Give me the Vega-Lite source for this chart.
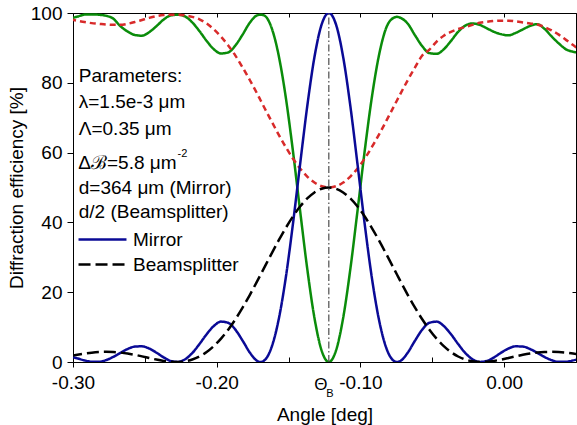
{
  "$schema": "https://vega.github.io/schema/vega-lite/v6.json",
  "width": 503,
  "height": 349,
  "autosize": {"type": "none"},
  "padding": {"left": 73, "top": 13, "right": 1, "bottom": 63},
  "background": "white",
  "config": {
    "font": "Liberation Sans",
    "view": {"stroke": "black", "strokeWidth": 1},
    "axis": {"grid": false, "domainColor": "black", "tickColor": "black", "labelColor": "black", "titleColor": "black", "labelFont": "Liberation Sans", "titleFont": "Liberation Sans", "labelFontSize": 19, "titleFontSize": 19, "titleFontWeight": "normal", "labelOverlap": false, "labelFlush": false}
  },
  "data": {"values": [
    {"a": -0.302, "Mirror": 1.62, "Beamsplitter": 1.74, "Mirror transmitted": 98.38, "Beamsplitter transmitted": 98.2},
    {"a": -0.297, "Mirror": 1.05, "Beamsplitter": 2.09, "Mirror transmitted": 98.95, "Beamsplitter transmitted": 97.8},
    {"a": -0.292, "Mirror": 0.46, "Beamsplitter": 2.41, "Mirror transmitted": 99.54, "Beamsplitter transmitted": 97.4},
    {"a": -0.287, "Mirror": 0.07, "Beamsplitter": 2.67, "Mirror transmitted": 99.6, "Beamsplitter transmitted": 97.1},
    {"a": -0.282, "Mirror": 0.04, "Beamsplitter": 2.84, "Mirror transmitted": 99.5, "Beamsplitter transmitted": 96.9},
    {"a": -0.277, "Mirror": 0.53, "Beamsplitter": 2.91, "Mirror transmitted": 99.2, "Beamsplitter transmitted": 96.7},
    {"a": -0.272, "Mirror": 1.46, "Beamsplitter": 2.86, "Mirror transmitted": 98.4, "Beamsplitter transmitted": 96.6},
    {"a": -0.267, "Mirror": 2.63, "Beamsplitter": 2.70, "Mirror transmitted": 96.2, "Beamsplitter transmitted": 96.6},
    {"a": -0.262, "Mirror": 3.73, "Beamsplitter": 2.43, "Mirror transmitted": 94.7, "Beamsplitter transmitted": 96.9},
    {"a": -0.257, "Mirror": 4.42, "Beamsplitter": 2.06, "Mirror transmitted": 93.7, "Beamsplitter transmitted": 97.4},
    {"a": -0.252, "Mirror": 4.49, "Beamsplitter": 1.62, "Mirror transmitted": 93.5, "Beamsplitter transmitted": 98.0},
    {"a": -0.247, "Mirror": 3.86, "Beamsplitter": 1.15, "Mirror transmitted": 94.5, "Beamsplitter transmitted": 98.6},
    {"a": -0.242, "Mirror": 2.69, "Beamsplitter": 0.70, "Mirror transmitted": 96.2, "Beamsplitter transmitted": 99.1},
    {"a": -0.237, "Mirror": 1.34, "Beamsplitter": 0.32, "Mirror transmitted": 98.1, "Beamsplitter transmitted": 99.4},
    {"a": -0.232, "Mirror": 0.29, "Beamsplitter": 0.07, "Mirror transmitted": 99.3, "Beamsplitter transmitted": 99.5},
    {"a": -0.227, "Mirror": 0.03, "Beamsplitter": 0.01, "Mirror transmitted": 99.5, "Beamsplitter transmitted": 99.5},
    {"a": -0.222, "Mirror": 0.78, "Beamsplitter": 0.20, "Mirror transmitted": 99.0, "Beamsplitter transmitted": 99.3},
    {"a": -0.217, "Mirror": 2.57, "Beamsplitter": 0.71, "Mirror transmitted": 97.3, "Beamsplitter transmitted": 98.9},
    {"a": -0.212, "Mirror": 5.15, "Beamsplitter": 1.58, "Mirror transmitted": 94.8, "Beamsplitter transmitted": 98.2},
    {"a": -0.207, "Mirror": 7.96, "Beamsplitter": 2.85, "Mirror transmitted": 92.0, "Beamsplitter transmitted": 97.0},
    {"a": -0.202, "Mirror": 10.32, "Beamsplitter": 4.56, "Mirror transmitted": 89.6, "Beamsplitter transmitted": 95.3},
    {"a": -0.197, "Mirror": 11.57, "Beamsplitter": 6.70, "Mirror transmitted": 88.4, "Beamsplitter transmitted": 93.2},
    {"a": -0.192, "Mirror": 11.23, "Beamsplitter": 9.27, "Mirror transmitted": 88.7, "Beamsplitter transmitted": 90.7},
    {"a": -0.187, "Mirror": 9.27, "Beamsplitter": 12.24, "Mirror transmitted": 90.7, "Beamsplitter transmitted": 87.8},
    {"a": -0.182, "Mirror": 6.13, "Beamsplitter": 15.57, "Mirror transmitted": 93.8, "Beamsplitter transmitted": 84.4},
    {"a": -0.177, "Mirror": 2.73, "Beamsplitter": 19.19, "Mirror transmitted": 97.2, "Beamsplitter transmitted": 80.8},
    {"a": -0.172, "Mirror": 0.36, "Beamsplitter": 23.02, "Mirror transmitted": 99.3, "Beamsplitter transmitted": 77.0},
    {"a": -0.1695, "Mirror": 0, "Beamsplitter": 24.99, "Mirror transmitted": 99.5, "Beamsplitter transmitted": 75.0},
    {"a": -0.167, "Mirror": 0.40, "Beamsplitter": 26.97, "Mirror transmitted": 99.3, "Beamsplitter transmitted": 73.0},
    {"a": -0.162, "Mirror": 4.03, "Beamsplitter": 30.92, "Mirror transmitted": 95.97, "Beamsplitter transmitted": 69.08},
    {"a": -0.157, "Mirror": 11.93, "Beamsplitter": 34.76, "Mirror transmitted": 88.07, "Beamsplitter transmitted": 65.24},
    {"a": -0.152, "Mirror": 24.01, "Beamsplitter": 38.39, "Mirror transmitted": 75.99, "Beamsplitter transmitted": 61.61},
    {"a": -0.147, "Mirror": 39.43, "Beamsplitter": 41.68, "Mirror transmitted": 60.57, "Beamsplitter transmitted": 58.32},
    {"a": -0.142, "Mirror": 56.57, "Beamsplitter": 44.54, "Mirror transmitted": 43.43, "Beamsplitter transmitted": 55.46},
    {"a": -0.137, "Mirror": 73.30, "Beamsplitter": 46.87, "Mirror transmitted": 26.70, "Beamsplitter transmitted": 53.13},
    {"a": -0.132, "Mirror": 87.35, "Beamsplitter": 48.59, "Mirror transmitted": 12.65, "Beamsplitter transmitted": 51.41},
    {"a": -0.127, "Mirror": 96.71, "Beamsplitter": 49.64, "Mirror transmitted": 3.29, "Beamsplitter transmitted": 50.36},
    {"a": -0.122, "Mirror": 100, "Beamsplitter": 50, "Mirror transmitted": 0, "Beamsplitter transmitted": 50},
    {"a": -0.117, "Mirror": 96.71, "Beamsplitter": 49.64, "Mirror transmitted": 3.29, "Beamsplitter transmitted": 50.36},
    {"a": -0.112, "Mirror": 87.35, "Beamsplitter": 48.59, "Mirror transmitted": 12.65, "Beamsplitter transmitted": 51.41},
    {"a": -0.107, "Mirror": 73.30, "Beamsplitter": 46.87, "Mirror transmitted": 26.70, "Beamsplitter transmitted": 53.13},
    {"a": -0.102, "Mirror": 56.57, "Beamsplitter": 44.54, "Mirror transmitted": 43.43, "Beamsplitter transmitted": 55.46},
    {"a": -0.097, "Mirror": 39.43, "Beamsplitter": 41.68, "Mirror transmitted": 60.57, "Beamsplitter transmitted": 58.32},
    {"a": -0.092, "Mirror": 24.01, "Beamsplitter": 38.39, "Mirror transmitted": 75.99, "Beamsplitter transmitted": 61.61},
    {"a": -0.087, "Mirror": 11.93, "Beamsplitter": 34.76, "Mirror transmitted": 88.07, "Beamsplitter transmitted": 65.24},
    {"a": -0.082, "Mirror": 4.03, "Beamsplitter": 30.92, "Mirror transmitted": 95.8, "Beamsplitter transmitted": 69.08},
    {"a": -0.077, "Mirror": 0.40, "Beamsplitter": 26.97, "Mirror transmitted": 98.6, "Beamsplitter transmitted": 73.03},
    {"a": -0.0745, "Mirror": 0, "Beamsplitter": 24.99, "Mirror transmitted": 98.9, "Beamsplitter transmitted": 75.01},
    {"a": -0.072, "Mirror": 0.36, "Beamsplitter": 23.02, "Mirror transmitted": 98.6, "Beamsplitter transmitted": 76.98},
    {"a": -0.067, "Mirror": 2.73, "Beamsplitter": 19.19, "Mirror transmitted": 96.9, "Beamsplitter transmitted": 80.81},
    {"a": -0.062, "Mirror": 6.13, "Beamsplitter": 15.57, "Mirror transmitted": 93.6, "Beamsplitter transmitted": 84.43},
    {"a": -0.057, "Mirror": 9.27, "Beamsplitter": 12.24, "Mirror transmitted": 90.5, "Beamsplitter transmitted": 87.8},
    {"a": -0.052, "Mirror": 11.23, "Beamsplitter": 9.27, "Mirror transmitted": 88.5, "Beamsplitter transmitted": 89.5},
    {"a": -0.047, "Mirror": 11.57, "Beamsplitter": 6.70, "Mirror transmitted": 88.3, "Beamsplitter transmitted": 91.8},
    {"a": -0.042, "Mirror": 10.32, "Beamsplitter": 4.56, "Mirror transmitted": 89.6, "Beamsplitter transmitted": 93.5},
    {"a": -0.037, "Mirror": 7.96, "Beamsplitter": 2.85, "Mirror transmitted": 92.0, "Beamsplitter transmitted": 94.6},
    {"a": -0.032, "Mirror": 5.15, "Beamsplitter": 1.58, "Mirror transmitted": 94.6, "Beamsplitter transmitted": 95.4},
    {"a": -0.027, "Mirror": 2.57, "Beamsplitter": 0.71, "Mirror transmitted": 96.4, "Beamsplitter transmitted": 96.0},
    {"a": -0.022, "Mirror": 0.78, "Beamsplitter": 0.20, "Mirror transmitted": 97.0, "Beamsplitter transmitted": 96.6},
    {"a": -0.017, "Mirror": 0.03, "Beamsplitter": 0.01, "Mirror transmitted": 96.6, "Beamsplitter transmitted": 97.2},
    {"a": -0.012, "Mirror": 0.29, "Beamsplitter": 0.07, "Mirror transmitted": 95.6, "Beamsplitter transmitted": 97.5},
    {"a": -0.007, "Mirror": 1.34, "Beamsplitter": 0.32, "Mirror transmitted": 94.6, "Beamsplitter transmitted": 97.7},
    {"a": -0.002, "Mirror": 2.69, "Beamsplitter": 0.70, "Mirror transmitted": 93.9, "Beamsplitter transmitted": 97.8},
    {"a": 0.003, "Mirror": 3.86, "Beamsplitter": 1.15, "Mirror transmitted": 93.6, "Beamsplitter transmitted": 97.8},
    {"a": 0.008, "Mirror": 4.49, "Beamsplitter": 1.62, "Mirror transmitted": 94.3, "Beamsplitter transmitted": 97.6},
    {"a": 0.013, "Mirror": 4.42, "Beamsplitter": 2.06, "Mirror transmitted": 95.3, "Beamsplitter transmitted": 97.3},
    {"a": 0.018, "Mirror": 3.73, "Beamsplitter": 2.43, "Mirror transmitted": 96.3, "Beamsplitter transmitted": 97.0},
    {"a": 0.023, "Mirror": 2.63, "Beamsplitter": 2.70, "Mirror transmitted": 96.8, "Beamsplitter transmitted": 96.7},
    {"a": 0.028, "Mirror": 1.46, "Beamsplitter": 2.86, "Mirror transmitted": 95.5, "Beamsplitter transmitted": 96.0},
    {"a": 0.033, "Mirror": 0.53, "Beamsplitter": 2.91, "Mirror transmitted": 93.3, "Beamsplitter transmitted": 95.0},
    {"a": 0.038, "Mirror": 0.04, "Beamsplitter": 2.84, "Mirror transmitted": 91.3, "Beamsplitter transmitted": 93.8},
    {"a": 0.043, "Mirror": 0.07, "Beamsplitter": 2.67, "Mirror transmitted": 89.6, "Beamsplitter transmitted": 92.3},
    {"a": 0.048, "Mirror": 0.46, "Beamsplitter": 2.41, "Mirror transmitted": 88.9, "Beamsplitter transmitted": 90.8},
    {"a": 0.053, "Mirror": 1.05, "Beamsplitter": 2.09, "Mirror transmitted": 88.6, "Beamsplitter transmitted": 89.3}
  ]},
  "resolve": {"axis": {"x": "independent", "y": "independent"}},
  "layer": [
    {
      "layer": [
        {
          "transform": [{"fold": ["Mirror transmitted", "Beamsplitter transmitted", "Mirror", "Beamsplitter"], "as": ["series", "value"]}],
          "mark": {"type": "line", "clip": true, "interpolate": "monotone"},
          "encoding": {
            "x": {"field": "a", "type": "quantitative", "scale": {"domain": [-0.3, 0.05], "nice": false, "zero": false},
              "axis": {"orient": "bottom", "title": "Angle [deg]", "values": [-0.3, -0.25, -0.2, -0.15, -0.1, -0.05, 0, 0.05],
                "labelExpr": "round(datum.value*20) % 2 === 0 ? replace(format(datum.value, '.2f'), '\u2212', '-') : ''",
                "tickSize": {"condition": {"test": "round(datum.value*20) % 2 === 0", "value": 5}, "value": -5},
                "labelPadding": 6, "titlePadding": 13}},
            "y": {"field": "value", "type": "quantitative", "scale": {"domain": [0, 100], "nice": false},
              "axis": {"orient": "left", "title": "Diffraction efficiency [%]", "values": [0, 10, 20, 30, 40, 50, 60, 70, 80, 90, 100],
                "labelExpr": "datum.value % 20 === 0 ? datum.label : ''",
                "tickSize": {"condition": {"test": "datum.value % 20 === 0", "value": 6}, "value": 3},
                "labelPadding": 5, "titlePadding": 4}},
            "color": {"field": "series", "type": "nominal",
              "scale": {"domain": ["Mirror", "Beamsplitter", "Mirror transmitted", "Beamsplitter transmitted"], "range": ["#0a0a96", "#000000", "#0a8c0a", "#d82a2a"]},
              "legend": {"values": ["Mirror", "Beamsplitter"], "title": null, "orient": "none", "legendX": 4, "legendY": 215, "symbolType": "stroke", "symbolSize": 2300, "symbolStrokeWidth": 2.5, "labelFontSize": 19, "labelFont": "Liberation Sans", "labelColor": "black", "labelOffset": 5, "clipHeight": 23, "rowPadding": 2, "padding": 0}},
            "strokeDash": {"field": "series", "type": "nominal",
              "scale": {"domain": ["Mirror", "Beamsplitter", "Mirror transmitted", "Beamsplitter transmitted"], "range": [[1, 0], [12, 5], [1, 0], [6, 4]]},
              "legend": {"values": ["Mirror", "Beamsplitter"], "title": null, "orient": "none", "legendX": 4, "legendY": 215, "symbolType": "stroke", "symbolSize": 2300, "symbolStrokeWidth": 2.5, "labelFontSize": 19, "labelFont": "Liberation Sans", "labelColor": "black", "labelOffset": 5, "clipHeight": 23, "rowPadding": 2, "padding": 0}},
            "strokeWidth": {"field": "series", "type": "nominal",
              "scale": {"domain": ["Mirror", "Beamsplitter", "Mirror transmitted", "Beamsplitter transmitted"], "range": [2.5, 2.5, 1.3, 1.4]},
              "legend": null}
          }
        },
        {
          "data": {"values": [{}]},
          "mark": {"type": "rule", "color": "#4d4d4d", "strokeWidth": 1.2, "strokeDash": [7, 2.5, 1.5, 2.5]},
          "encoding": {"x": {"datum": -0.122}, "y": {"datum": 0}, "y2": {"datum": 100}}
        },
        {"data": {"values": [{}]}, "mark": {"type": "text", "align": "left", "baseline": "alphabetic", "fontSize": 19, "font": "Liberation Sans"}, "encoding": {"x": {"datum": -0.296}, "y": {"datum": 80.3}, "text": {"value": "Parameters:"}}},
        {"data": {"values": [{}]}, "mark": {"type": "text", "align": "left", "baseline": "alphabetic", "fontSize": 19, "font": "Liberation Sans"}, "encoding": {"x": {"datum": -0.296}, "y": {"datum": 72.7}, "text": {"value": "λ=1.5e-3 μm"}}},
        {"data": {"values": [{}]}, "mark": {"type": "text", "align": "left", "baseline": "alphabetic", "fontSize": 19, "font": "Liberation Sans"}, "encoding": {"x": {"datum": -0.296}, "y": {"datum": 65.0}, "text": {"value": "Λ=0.35 μm"}}},
        {"data": {"values": [{}]}, "mark": {"type": "text", "align": "left", "baseline": "alphabetic", "fontSize": 19, "font": "Liberation Sans"}, "encoding": {"x": {"datum": -0.2963}, "y": {"datum": 55.4}, "text": {"value": "Δℬ=5.8 μm"}}},
        {"data": {"values": [{}]}, "mark": {"type": "text", "align": "left", "baseline": "alphabetic", "fontSize": 11, "font": "Liberation Sans"}, "encoding": {"x": {"datum": -0.2272}, "y": {"datum": 58.8}, "text": {"value": "-2"}}},
        {"data": {"values": [{}]}, "mark": {"type": "text", "align": "left", "baseline": "alphabetic", "fontSize": 19, "font": "Liberation Sans"}, "encoding": {"x": {"datum": -0.296}, "y": {"datum": 48.0}, "text": {"value": "d=364 μm (Mirror)"}}},
        {"data": {"values": [{}]}, "mark": {"type": "text", "align": "left", "baseline": "alphabetic", "fontSize": 19, "font": "Liberation Sans"}, "encoding": {"x": {"datum": -0.296}, "y": {"datum": 41.2}, "text": {"value": "d/2 (Beamsplitter)"}}},
        {"data": {"values": [{}]}, "mark": {"type": "text", "align": "center", "baseline": "alphabetic", "fontSize": 17, "font": "Liberation Sans"}, "encoding": {"x": {"datum": -0.1276}, "y": {"datum": -8.0}, "text": {"value": "Θ"}}},
        {"data": {"values": [{}]}, "mark": {"type": "text", "align": "center", "baseline": "alphabetic", "fontSize": 11, "font": "Liberation Sans"}, "encoding": {"x": {"datum": -0.1212}, "y": {"datum": -10.1}, "text": {"value": "B"}}}
      ]
    },
    {
      "mark": {"type": "point", "opacity": 0},
      "encoding": {
        "x": {"field": "a", "type": "quantitative", "scale": {"domain": [-0.3, 0.05], "nice": false, "zero": false},
          "axis": {"orient": "top", "title": null, "labels": false, "domain": false, "values": [-0.3, -0.25, -0.2, -0.15, -0.1, -0.05, 0, 0.05], "tickSize": -4}},
        "y": {"field": "Mirror", "type": "quantitative", "scale": {"domain": [0, 100], "nice": false},
          "axis": {"orient": "right", "title": null, "labels": false, "domain": false, "values": [0, 20, 40, 60, 80, 100], "tickSize": -4}}
      }
    }
  ]
}
